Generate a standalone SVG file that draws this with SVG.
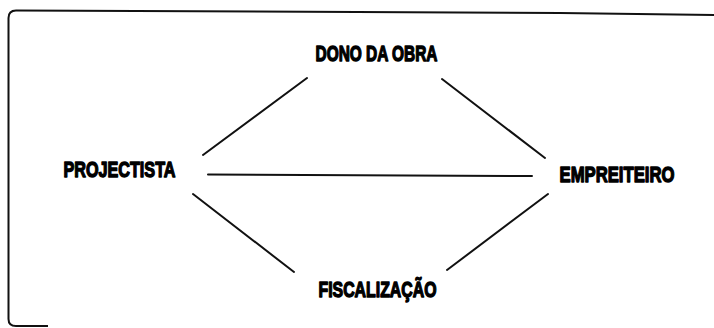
<svg xmlns="http://www.w3.org/2000/svg" width="714" height="328" viewBox="0 0 714 328">
<style>
.lbl{font-family:"Liberation Sans","Arial",sans-serif;font-weight:bold;font-size:22px;fill:#000;stroke:#000;stroke-width:1.4px;stroke-linejoin:round}
.edge{stroke:#111;stroke-width:2;stroke-linecap:round;fill:none}
.frame{stroke:#111;stroke-width:2;fill:none}
</style>
<rect width="714" height="328" fill="#fff"/>
<path class="frame" d="M714 15 L560 13 L16 10.5 Q8.5 10.5 8.5 18 V319 Q8.5 326 16 326 H48"/>
<g id="connectors">
<line class="edge" x1="307" y1="78" x2="203" y2="155"/>
<line class="edge" x1="442" y1="79" x2="545" y2="158"/>
<line class="edge" x1="208" y1="174.5" x2="532" y2="176"/>
<line class="edge" x1="193" y1="194" x2="294" y2="272"/>
<line class="edge" x1="548" y1="194" x2="447" y2="270"/>
</g>
<g id="dono"><text class="lbl" x="315.5" y="60.5" textLength="122" lengthAdjust="spacingAndGlyphs">DONO DA OBRA</text></g>
<g id="projectista"><text class="lbl" x="63.5" y="176.5" textLength="112" lengthAdjust="spacingAndGlyphs">PROJECTISTA</text></g>
<g id="empreiteiro"><text class="lbl" x="559.5" y="181.5" textLength="115" lengthAdjust="spacingAndGlyphs">EMPREITEIRO</text></g>
<g id="fiscalizacao"><text class="lbl" x="318.5" y="296.5" textLength="118" lengthAdjust="spacingAndGlyphs">FISCALIZAÇÃO</text></g>
</svg>
